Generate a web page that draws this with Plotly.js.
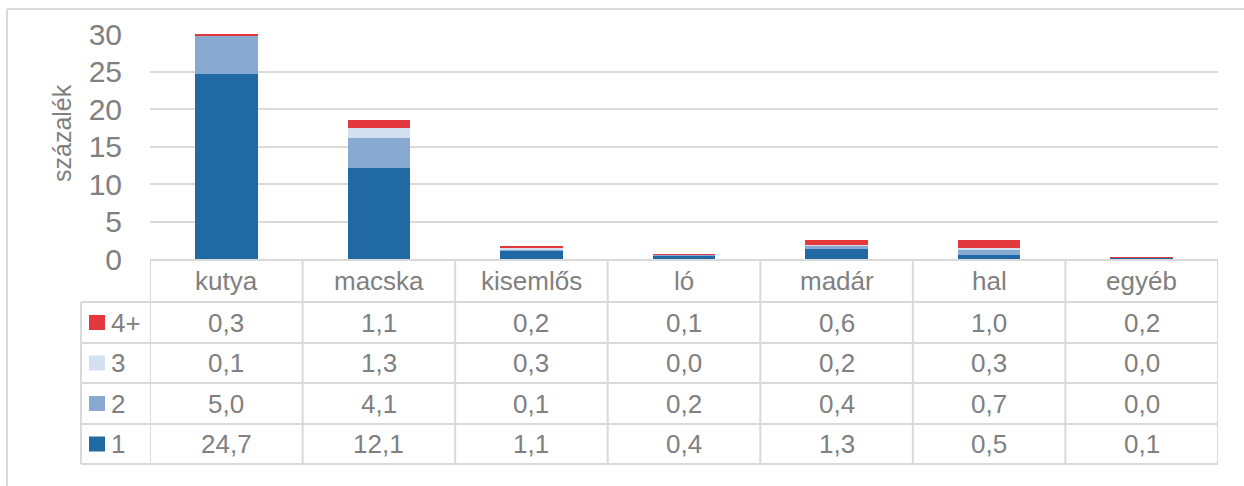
<!DOCTYPE html>
<html>
<head>
<meta charset="utf-8">
<script src="https://cdn.plot.ly/plotly-3.0.1.min.js"></script>
<style>html,body{margin:0;padding:0;background:#fff}#chart{width:1244px;height:486px}</style>
</head>
<body>
<div id="chart"></div>
<script>
// ---- data ----
const categories = ["kutya", "macska", "kisemlős", "ló", "madár", "hal", "egyéb"];
const seriesNames = ["1", "2", "3", "4+"];
const s1 = [24.7, 12.1, 1.1, 0.4, 1.3, 0.5, 0.1];
const s2 = [5.0, 4.1, 0.1, 0.2, 0.4, 0.7, 0.0];
const s3 = [0.1, 1.3, 0.3, 0.0, 0.2, 0.3, 0.0];
const s4 = [0.3, 1.1, 0.2, 0.1, 0.6, 1.0, 0.2];
const yTitle = "százalék";

// ---- styling ----
const seriesValues = [s1, s2, s3, s4];
const colors = ["#2169a4", "#88a9d0", "#d3e0f0", "#e3383e"];
const textColor = "#808080";
const lineColor = "#d9d9d9";
const font = "Liberation Sans, Arial, sans-serif";

const W = 1244, H = 486;
const L = 150, R = 1218, T = 34, B = 259;
const px = p => (p - L) / (R - L);      // pixel x -> paper x
const py = p => (B - p) / (B - T);      // pixel y -> paper y

const traces = seriesValues.map((vals, i) => ({
  type: "bar",
  name: seriesNames[i],
  x: categories,
  y: vals,
  width: 0.41,
  marker: {color: colors[i], line: {width: 0}},
  hoverinfo: "x+y+name"
}));

const shapes = [];
const annotations = [];
const ln = (x0, y0, x1, y1, xref) => shapes.push({
  type: "line", xref: xref || "paper", yref: "paper",
  x0: x0, y0: y0, x1: x1, y1: y1,
  line: {color: lineColor, width: 2}, layer: "below"
});

// outer chart frame (left and top)
ln(px(7), py(9), px(7), py(H + 5));
ln(px(7), py(9), px(W + 5), py(9));

// data table grid
const rowEdges = [260, 302, 343, 383, 424, 464];
ln(0, py(rowEdges[0]), 1, py(rowEdges[0]));
for (let r = 1; r < rowEdges.length; r++) ln(px(81), py(rowEdges[r]), 1, py(rowEdges[r]));
for (let k = 0; k <= categories.length; k++) ln(k - 0.5, py(rowEdges[0]), k - 0.5, py(rowEdges[5]), "x");
ln(px(81), py(rowEdges[1]), px(81), py(rowEdges[5]));

const fmt = v => v.toFixed(1).replace(".", ",");
const fs = 26;

// category header
categories.forEach((c, k) => annotations.push({
  xref: "x", yref: "paper", x: c, y: py((rowEdges[0] + rowEdges[1]) / 2),
  text: c, showarrow: false, xanchor: "center", yanchor: "middle",
  font: {family: font, size: fs, color: textColor}
}));

// table rows: 4+, 3, 2, 1 from top
for (let r = 0; r < 4; r++) {
  const si = 3 - r;
  const yc = (rowEdges[r + 1] + rowEdges[r + 2]) / 2;
  shapes.push({type: "rect", xref: "paper", yref: "paper",
    x0: px(89), x1: px(105), y0: py(yc - 7.5), y1: py(yc + 7.5),
    fillcolor: colors[si], line: {width: 0}});
  annotations.push({xref: "paper", yref: "paper", x: px(109), y: py(yc),
    text: seriesNames[si], showarrow: false, xanchor: "left", yanchor: "middle",
    font: {family: font, size: fs, color: textColor}});
  seriesValues[si].forEach((v, k) => annotations.push({
    xref: "x", yref: "paper", x: categories[k], y: py(yc),
    text: fmt(v), showarrow: false, xanchor: "center", yanchor: "middle",
    font: {family: font, size: fs, color: textColor}
  }));
}

// y-axis title
annotations.push({xref: "paper", yref: "paper", x: px(62), y: py(133),
  text: yTitle, textangle: -90, showarrow: false, xanchor: "center", yanchor: "middle",
  font: {family: font, size: 25, color: textColor}});

const layout = {
  width: W, height: H,
  margin: {l: L, r: W - R, t: T, b: H - B, pad: 0},
  paper_bgcolor: "#ffffff", plot_bgcolor: "#ffffff",
  barmode: "stack",
  showlegend: false,
  font: {family: font, color: textColor},
  xaxis: {type: "category", range: [-0.5, categories.length - 0.5],
    showticklabels: false, showgrid: false, zeroline: false, showline: false, ticks: ""},
  yaxis: {range: [0, 30], dtick: 5, tick0: 0, showgrid: true, gridcolor: lineColor, gridwidth: 2,
    zeroline: false, showline: false, ticks: "", ticklabelstandoff: 27,
    tickfont: {family: font, size: 30, color: textColor}},
  shapes: shapes,
  annotations: annotations
};

Plotly.newPlot("chart", traces, layout, {displayModeBar: false, staticPlot: true});
</script>
</body>
</html>
